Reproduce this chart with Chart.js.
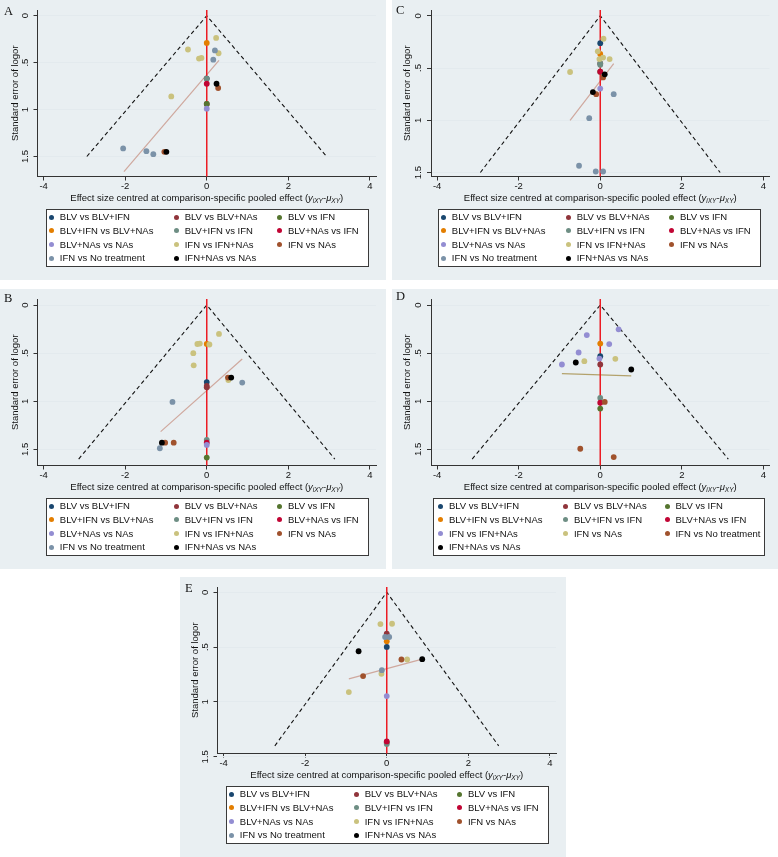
<!DOCTYPE html>
<html><head><meta charset="utf-8">
<script src="https://cdn.jsdelivr.net/npm/chart.js@4.4.0/dist/chart.umd.min.js"></script>
<style>
html,body{margin:0;padding:0;background:#fff;}
body{width:778px;height:857px;position:relative;overflow:hidden;font-family:"Liberation Sans",Arial,sans-serif;}
.panel{position:absolute;width:386px;height:280px;background:#e9eff2;overflow:hidden;}
.panel canvas{position:absolute;left:0;top:0;}
.letter{position:absolute;font-family:"Liberation Serif","Times New Roman",serif;font-size:12.5px;color:#111;line-height:1;}
.xtitle{position:absolute;text-align:center;font-size:9.5px;color:#111;white-space:nowrap;line-height:1;}
.xtitle sub{font-size:6.5px;vertical-align:-2px;}
.legend{position:absolute;background:#fff;border:1px solid #3a3a3a;box-sizing:border-box;}
.ltext{position:absolute;font-size:9.5px;color:#111;white-space:nowrap;line-height:1;}
.ldot{position:absolute;width:5px;height:5px;border-radius:50%;}
</style></head><body>
<script>
// ---------- names and ticks ----------
const seriesNames = ['BLV vs BLV+IFN','BLV vs BLV+NAs','BLV vs IFN','BLV+IFN vs BLV+NAs','BLV+IFN vs IFN','BLV+NAs vs IFN','BLV+NAs vs NAs','IFN vs IFN+NAs','IFN vs NAs','IFN vs No treatment','IFN+NAs vs NAs'];
const seriesNamesD = ['BLV vs BLV+IFN','BLV vs BLV+NAs','BLV vs IFN','BLV+IFN vs BLV+NAs','BLV+IFN vs IFN','BLV+NAs vs IFN','IFN vs IFN+NAs','IFN vs NAs','IFN vs No treatment','IFN+NAs vs NAs'];
const xTicks = [-4,-2,0,2,4];
const xTickLabels = ['-4','-2','0','2','4'];
const yTicks = [0,0.5,1,1.5];
const yTickLabels = ['0','.5','1','1.5'];
const xLim = [-4.15, 4.15];

// ---------- Panel A ----------
const A_x = [[0],[0],[0],[0],[0],[0],[0],
  [0.23,-0.46,0.29,-0.19,-0.13,-0.87],
  [0.28,-1.04],
  [0.20,0.16,-2.05,-1.48,-1.31],
  [0.24,-0.99]];
const A_y = [[0.67],[0.94],[0.94],[0.29],[0.67],[0.725],[0.99],
  [0.236,0.36,0.40,0.457,0.45,0.86],
  [0.77,1.45],
  [0.37,0.468,1.414,1.443,1.475],
  [0.725,1.45]];
const A_regX = [-2.03, 0.30];
const A_regY = [1.66, 0.475];
const A_funX = [-2.94, 0, 2.94];
const A_funY = [1.5, 0, 1.5];
const A_yLim = [-0.061, 1.713];

// ---------- Panel B ----------
const B_x = [[0],[0,0],[0],[0],[0],[0],[0],
  [0.30,-0.23,-0.17,0.065,-0.33,-0.32,0.53],
  [0.52,-1.02,-0.81],
  [0.87,-0.84,-1.15],
  [0.60,-1.10]];
const B_y = [[0.80],[0.84,0.855],[1.585],[0.405],[1.40],[1.43],[1.453],
  [0.30,0.405,0.40,0.41,0.50,0.626,0.78],
  [0.754,1.43,1.43],
  [0.806,1.007,1.488],
  [0.754,1.43]];
const B_regX = [-1.13, 0.87];
const B_regY = [1.315, 0.56];
const B_funX = [-3.14, 0, 3.14];
const B_funY = [1.6, 0, 1.6];
const B_yLim = [-0.0625, 1.667];

// ---------- Panel C ----------
const C_x = [[0],[0],[0],[0],[0,0],[0],[0],
  [0.08,-0.06,0.07,-0.02,0.23,-0.74],
  [0.07,-0.10],
  [0.33,-0.27,-0.52,-0.11,0.07],
  [0.11,-0.18]];
const C_y = [[0.262],[0.457],[0.535],[0.366],[0.457,0.47],[0.535],[0.697],
  [0.22,0.34,0.40,0.415,0.415,0.538],
  [0.59,0.75],
  [0.75,0.98,1.435,1.49,1.49],
  [0.56,0.73]];
const C_regX = [-0.74, 0.33];
const C_regY = [1.0, 0.457];
const C_funX = [-2.94, 0, 2.94];
const C_funY = [1.5, 0, 1.5];
const C_yLim = [-0.055, 1.538];

// ---------- Panel D ----------
const D_x = [[0],[0],[0],[0],[0],[0],
  [0.45,-0.33,0.22,-0.53,-0.02,-0.94],
  [0.37,-0.39],
  [0.11,-0.49,0.33],
  [-0.60,0.76]];
const D_y = [[0.531],[0.618],[1.076],[0.40],[0.965],[1.014],
  [0.253,0.3125,0.406,0.493,0.556,0.618],
  [0.559,0.583],
  [1.007,1.493,1.58],
  [0.597,0.67]];
const D_regX = [-0.94, 0.76];
const D_regY = [0.712, 0.736];
const D_funX = [-3.14, 0, 3.14];
const D_funY = [1.6, 0, 1.6];
const D_yLim = [-0.0625, 1.667];

// ---------- Panel E ----------
const E_x = [[0],[0],[0],[0],[0],[0],[0],
  [-0.155,0.13,0.50,-0.13,-0.93],
  [0.36,-0.58],
  [-0.04,0.06,-0.12],
  [-0.69,0.87]];
const E_y = [[0.498],[0.378],[1.37],[0.447],[1.384],[1.36],[0.946],
  [0.29,0.287,0.613,0.743,0.91],
  [0.613,0.764],
  [0.408,0.408,0.71],
  [0.538,0.61]];
const E_regX = [-0.93, 0.87];
const E_regY = [0.79, 0.61];
const E_funX = [-2.744, 0, 2.744];
const E_funY = [1.4, 0, 1.4];
const E_yLim = [-0.048, 1.47];

// ---------- styles ----------
const FONT = '"Liberation Sans", Arial, sans-serif';
const palette = ['#1a476f','#90353b','#55752f','#e37e00','#6e8e84','#c10534','#938dd2','#cac27e','#a0522d','#7b92a8','#000000'];
const paletteD = ['#1a476f','#90353b','#55752f','#e37e00','#6e8e84','#c10534','#938dd2','#cac27e','#a0522d','#000000'];

const panels = [
  {key:'A', left:0,   top:0,   xs:A_x, ys:A_y, regX:A_regX, regY:A_regY, funX:A_funX, funY:A_funY, yLim:A_yLim, names:seriesNames,  colors:palette,  regColor:'#cfa89e', plotL:37.5, plotR:376, legL:46, legW:322.5, cols:[5.6,130.5,233.7], letter:[4,5]},
  {key:'B', left:0,   top:289, xs:B_x, ys:B_y, regX:B_regX, regY:B_regY, funX:B_funX, funY:B_funY, yLim:B_yLim, names:seriesNames,  colors:palette,  regColor:'#cfa89e', plotL:37.5, plotR:376, legL:46, legW:322.5, cols:[5.6,130.5,233.7], letter:[4,3]},
  {key:'C', left:392, top:0,   xs:C_x, ys:C_y, regX:C_regX, regY:C_regY, funX:C_funX, funY:C_funY, yLim:C_yLim, names:seriesNames,  colors:palette,  regColor:'#cfa89e', plotL:39,   plotR:377.5, legL:46, legW:322.5, cols:[5.6,130.5,233.7], letter:[4,4]},
  {key:'D', left:392, top:289, xs:D_x, ys:D_y, regX:D_regX, regY:D_regY, funX:D_funX, funY:D_funY, yLim:D_yLim, names:seriesNamesD, colors:paletteD, regColor:'#b3a26c', plotL:39,   plotR:377.5, legL:41.3, legW:331.7, cols:[7.4,132.4,234], letter:[4,1]},
  {key:'E', left:180, top:577, xs:E_x, ys:E_y, regX:E_regX, regY:E_regY, funX:E_funX, funY:E_funY, yLim:E_yLim, names:seriesNames,  colors:palette,  regColor:'#cfa89e', plotL:37.5, plotR:376, legL:46, legW:322.5, cols:[5.6,130.5,233.7], letter:[5,4.5]}
];

const PW = 386, PH = 280, PLOT_TOP = 10, PLOT_BOTTOM = 176.5, XAXIS_H = 22;
const rowCenters = [8.7, 22.4, 36.0, 49.7];

function pts(xs, ys){ return xs.map((v,i)=>({x:v, y:ys[i]})); }

panels.forEach(P => {
  const div = document.createElement('div');
  div.className = 'panel';
  div.style.left = P.left + 'px';
  div.style.top = P.top + 'px';
  document.body.appendChild(div);

  const cv = document.createElement('canvas');
  cv.width = PW; cv.height = PH;
  cv.style.width = PW + 'px'; cv.style.height = PH + 'px';
  div.appendChild(cv);

  const letter = document.createElement('div');
  letter.className = 'letter';
  letter.textContent = P.key;
  letter.style.left = P.letter[0] + 'px';
  letter.style.top = P.letter[1] + 'px';
  div.appendChild(letter);

  const xt = document.createElement('div');
  xt.className = 'xtitle';
  xt.style.left = P.plotL + 'px';
  xt.style.width = (P.plotR - P.plotL) + 'px';
  xt.style.top = '192.5px';
  xt.innerHTML = 'Effect size centred at comparison-specific pooled effect (<i>y</i><sub><i>iXY</i></sub>-<i>μ</i><sub><i>XY</i></sub>)';
  div.appendChild(xt);

  const lg = document.createElement('div');
  lg.className = 'legend';
  lg.style.left = P.legL + 'px';
  lg.style.top = '208.5px';
  lg.style.width = P.legW + 'px';
  lg.style.height = '58.5px';
  div.appendChild(lg);
  P.names.forEach((nm, i) => {
    const c = i % 3, r = Math.floor(i / 3);
    const d = document.createElement('div');
    d.className = 'ldot';
    d.style.background = P.colors[i];
    d.style.left = (P.cols[c] - 2.5 - 1) + 'px';
    d.style.top = (rowCenters[r] - 2.5 - 1) + 'px';
    lg.appendChild(d);
    const t = document.createElement('div');
    t.className = 'ltext';
    t.textContent = nm;
    t.style.left = (P.cols[c] + 8.2 - 1) + 'px';
    t.style.top = (rowCenters[r] - 4.75 - 1) + 'px';
    lg.appendChild(t);
  });

  const datasets = [];
  datasets.push({type:'line', data:pts(P.funX, P.funY), borderColor:'#111', borderWidth:1.1, borderDash:[4,3], pointRadius:0, fill:false, tension:0, order:1000});
  datasets.push({type:'line', data:pts(P.regX, P.regY), borderColor:P.regColor, borderWidth:1.2, pointRadius:0, fill:false, order:999});
  datasets.push({type:'line', data:[{x:0,y:P.yLim[0]},{x:0,y:P.yLim[1]}], borderColor:'#ec1c24', borderWidth:1.5, pointRadius:0, fill:false, order:998});
  P.xs.forEach((xs, i) => {
    datasets.push({type:'scatter', label:P.names[i], data:pts(xs, P.ys[i]), backgroundColor:P.colors[i], borderColor:P.colors[i], borderWidth:0, pointRadius:2.9, pointHoverRadius:2.9, order:100 - i});
  });

  const tickFont = {family:FONT, size:9.5};
  new Chart(cv, {
    type:'scatter',
    data:{datasets},
    options:{
      responsive:false, animation:false, devicePixelRatio:1,
      events:[],
      clip:false,
      layout:{autoPadding:false, padding:{left:0, top:PLOT_TOP, right:PW - P.plotR, bottom:PH - PLOT_BOTTOM - XAXIS_H}},
      plugins:{legend:{display:false}, tooltip:{enabled:false}},
      scales:{
        x:{type:'linear', position:'bottom', min:xLim[0], max:xLim[1],
          afterBuildTicks:s=>{ s.ticks = xTicks.map(v=>({value:v})); },
          afterFit:s=>{ s.height = XAXIS_H; },
          ticks:{callback:(v,i)=>xTickLabels[i], font:tickFont, color:'#111', padding:0, maxRotation:0, autoSkip:false},
          grid:{display:true, drawOnChartArea:false, drawTicks:true, tickLength:4, tickColor:'#333', color:'#333'},
          border:{display:true, color:'#333', width:1}
        },
        y:{type:'linear', position:'left', reverse:true, min:P.yLim[0], max:P.yLim[1],
          afterBuildTicks:s=>{ s.ticks = yTicks.map(v=>({value:v})); },
          afterFit:s=>{ s.width = P.plotL; },
          ticks:{callback:(v,i)=>yTickLabels[i], font:tickFont, color:'#111', padding:1.9, minRotation:90, maxRotation:90, crossAlign:'center', autoSkip:false},
          grid:{display:true, color:'#e3eaee', lineWidth:1, drawTicks:true, tickLength:4, tickColor:'#333'},
          border:{display:true, color:'#333', width:1},
          title:{display:true, text:'Standard error of logor', font:{family:FONT, size:9.5}, color:'#111', padding:{top:9.3, bottom:0}}
        }
      }
    }
  });
});
</script>
</body></html>
